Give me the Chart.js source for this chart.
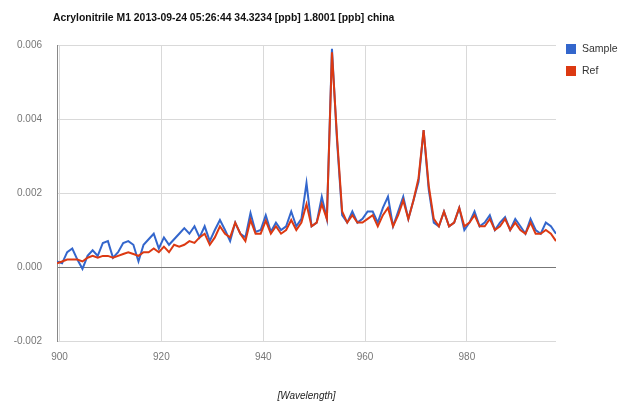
<!DOCTYPE html>
<html>
<head>
<meta charset="utf-8">
<title>Acrylonitrile M1 spectrum</title>
<script src="https://cdn.jsdelivr.net/npm/chart.js@4"></script>
<style>
  html, body { margin: 0; padding: 0; background: #fff; }
  #wrap { width: 620px; height: 406px; position: relative; }
</style>
</head>
<body>
<div id="wrap"><canvas id="spectrum" width="620" height="406"></canvas></div>
<script>
  var chartTitle = 'Acrylonitrile M1 2013-09-24 05:26:44 34.3234 [ppb] 1.8001 [ppb] china';
  var seriesNames = ['Sample', 'Ref'];
  var seriesColors = ['#3366cc', '#dc3912'];

  var wavelengths = [
    899.5, 900.5, 901.5, 902.5, 903.5, 904.5, 905.5, 906.5, 907.5, 908.5,
    909.5, 910.5, 911.5, 912.5, 913.5, 914.5, 915.5, 916.5, 917.5, 918.5,
    919.5, 920.5, 921.5, 922.5, 923.5, 924.5, 925.5, 926.5, 927.5, 928.5,
    929.5, 930.5, 931.5, 932.5, 933.5, 934.5, 935.5, 936.5, 937.5, 938.5,
    939.5, 940.5, 941.5, 942.5, 943.5, 944.5, 945.5, 946.5, 947.5, 948.5,
    949.5, 950.5, 951.5, 952.5, 953.5, 954.5, 955.5, 956.5, 957.5, 958.5,
    959.5, 960.5, 961.5, 962.5, 963.5, 964.5, 965.5, 966.5, 967.5, 968.5,
    969.5, 970.5, 971.5, 972.5, 973.5, 974.5, 975.5, 976.5, 977.5, 978.5,
    979.5, 980.5, 981.5, 982.5, 983.5, 984.5, 985.5, 986.5, 987.5, 988.5,
    989.5, 990.5, 991.5, 992.5, 993.5, 994.5, 995.5, 996.5, 997.5
  ];

  var sample = [
    0.00015, 0.0001, 0.0004, 0.0005, 0.0002, -0.00005, 0.0003, 0.00045, 0.0003, 0.00065,
    0.0007, 0.00025, 0.0004, 0.00065, 0.0007, 0.0006, 0.00015, 0.0006, 0.00075, 0.0009,
    0.0005, 0.0008, 0.0006, 0.00075, 0.0009, 0.00105, 0.0009, 0.0011, 0.0008, 0.0011,
    0.0007, 0.001, 0.00127, 0.001, 0.0007, 0.0012, 0.0009, 0.0008, 0.00146, 0.00095,
    0.001, 0.0014, 0.00095, 0.0012, 0.001, 0.0011, 0.0015, 0.0011, 0.0013, 0.00227,
    0.0011, 0.0012, 0.0019, 0.0013, 0.0059, 0.0034, 0.0014, 0.0012, 0.0015, 0.0012,
    0.0013, 0.0015, 0.0015, 0.0012, 0.0016, 0.0019, 0.0011, 0.0015, 0.0019, 0.0013,
    0.0018, 0.0023, 0.0037, 0.0021, 0.0012, 0.0011, 0.0015, 0.0011, 0.0012, 0.0016,
    0.001, 0.0012, 0.0015, 0.0011, 0.0012, 0.0014, 0.001, 0.0012, 0.00135, 0.001,
    0.0013, 0.0011, 0.0009, 0.0013, 0.001, 0.0009, 0.0012, 0.0011, 0.0009
  ];

  var ref = [
    0.0001, 0.00015, 0.0002, 0.0002, 0.0002, 0.00015, 0.00025, 0.0003, 0.00025, 0.0003,
    0.0003, 0.00025, 0.0003, 0.00035, 0.0004, 0.00035, 0.0003, 0.0004, 0.0004, 0.0005,
    0.0004, 0.00055, 0.0004, 0.0006, 0.00055, 0.0006, 0.0007, 0.00065, 0.0008, 0.0009,
    0.0006, 0.0008, 0.0011, 0.0009, 0.0008, 0.0012, 0.0009, 0.0007, 0.00127, 0.0009,
    0.0009, 0.00125, 0.0009, 0.0011, 0.0009, 0.001, 0.00127, 0.001, 0.0012, 0.0017,
    0.0011, 0.0012, 0.0017, 0.0013, 0.0058, 0.0035, 0.0015, 0.0012, 0.0014, 0.0012,
    0.0012, 0.0013, 0.0014, 0.0011, 0.0014, 0.0016, 0.0011, 0.0014, 0.0018, 0.0013,
    0.0018, 0.0024, 0.0037, 0.0022, 0.0013, 0.0011, 0.0015, 0.0011, 0.0012, 0.0016,
    0.0011, 0.0012, 0.0014, 0.0011, 0.0011, 0.0013, 0.001, 0.0011, 0.0013, 0.001,
    0.0012, 0.001, 0.0009, 0.0012, 0.0009, 0.0009, 0.001, 0.0009, 0.0007
  ];

  var xTicks = [900, 920, 940, 960, 980];
  var yTicks = [-0.002, 0, 0.002, 0.004, 0.006];

  function points(values) {
    return values.map(function (v, i) { return { x: wavelengths[i], y: v }; });
  }

  // title + legend drawn straight onto the canvas, google-charts style
  var headerPlugin = {
    id: 'header',
    afterDraw: function (chart) {
      var ctx = chart.ctx;
      ctx.save();
      ctx.textBaseline = 'middle';
      ctx.textAlign = 'left';
      ctx.fillStyle = '#111';
      ctx.font = 'bold 10.4px Arial, "Liberation Sans"';
      ctx.fillText(chartTitle, 53, 18);

      ctx.font = '10.5px Arial, "Liberation Sans"';
      seriesNames.forEach(function (name, i) {
        var y = 44 + i * 22;
        ctx.fillStyle = seriesColors[i];
        ctx.fillRect(566, y, 10, 10);
        ctx.fillStyle = '#333';
        ctx.fillText(name, 582, y + 5);
      });
      ctx.restore();
    }
  };

  new Chart(document.getElementById('spectrum'), {
    type: 'line',
    data: {
      datasets: [{
        label: seriesNames[0],
        data: points(sample),
        borderColor: seriesColors[0],
        order: 1
      }, {
        label: seriesNames[1],
        data: points(ref),
        borderColor: seriesColors[1],
        order: 0
      }]
    },
    options: {
      responsive: false,
      animation: false,
      layout: { padding: { left: 0, right: 64, top: 45, bottom: 0 } },
      elements: {
        point: { radius: 0 },
        line: { borderWidth: 2, tension: 0, fill: false }
      },
      plugins: {
        legend: { display: false },
        title: { display: false },
        tooltip: { enabled: false }
      },
      scales: {
        x: {
          type: 'linear',
          min: 899.5,
          max: 997.5,
          afterBuildTicks: function (s) { s.ticks = xTicks.map(function (v) { return { value: v }; }); },
          afterFit: function (s) { s.height = 65; },
          ticks: {
            font: { family: 'Arial, "Liberation Sans"', size: 10 },
            color: '#777',
            padding: 10,
            maxRotation: 0
          },
          grid: { color: '#d9d9d9', drawTicks: false },
          border: { display: false },
          title: {
            display: true,
            text: '[Wavelength]',
            font: { family: 'Arial, "Liberation Sans"', size: 10, style: 'italic' },
            color: '#222',
            padding: { top: 4, bottom: 4 }
          }
        },
        y: {
          min: -0.002,
          max: 0.006,
          afterBuildTicks: function (s) { s.ticks = yTicks.map(function (v) { return { value: v }; }); },
          afterFit: function (s) { s.width = 57; },
          ticks: {
            font: { family: 'Arial, "Liberation Sans"', size: 10 },
            color: '#777',
            padding: 15,
            callback: function (v) { return Number(v).toFixed(3); }
          },
          grid: {
            color: function (c) { return c.tick && c.tick.value === 0 ? '#777' : '#d9d9d9'; },
            drawTicks: false
          },
          border: { color: '#888', width: 1 }
        }
      }
    },
    plugins: [headerPlugin]
  });
</script>
</body>
</html>
